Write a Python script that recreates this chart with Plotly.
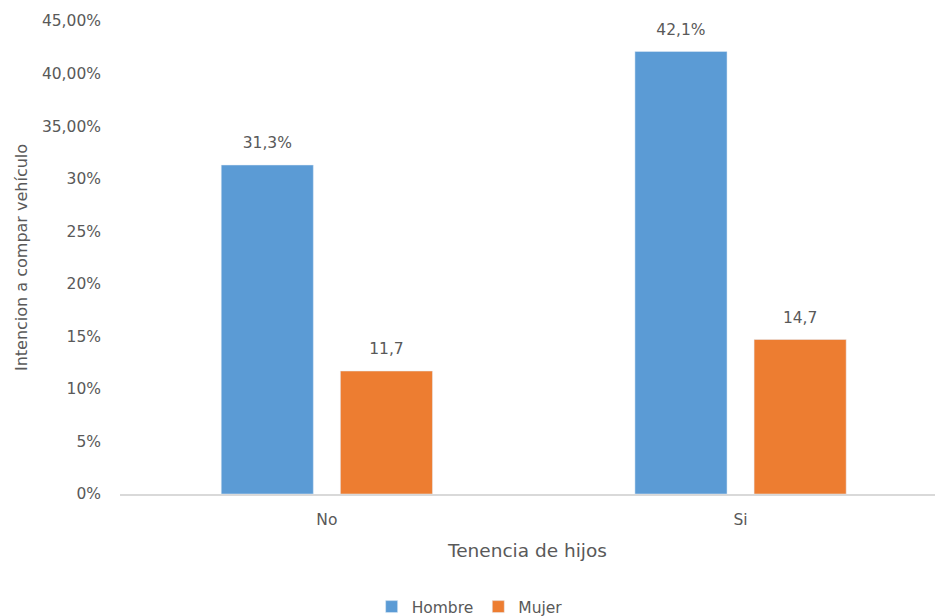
import plotly.graph_objects as go

categories = ["No", "Si"]
hombre = [31.3, 42.1]
mujer = [11.7, 14.7]
hombre_labels = ["31,3%", "42,1%"]
mujer_labels = ["11,7", "14,7"]
y_tickvals = [0, 5, 10, 15, 20, 25, 30, 35, 40, 45]
y_ticktext = ["0%", "5%", "10%", "15%", "20%", "25%", "30%", "35,00%", "40,00%", "45,00%"]

FONT = "DejaVu Sans"
TXT = "#595959"


def lab(t):
    return "<span style='font-size:15.5px'>" + t + "</span><br> "


fig = go.Figure()
fig.add_trace(go.Bar(x=categories, y=hombre, name="Hombre", marker_color="#5B9BD5",
                     text=[lab(t) for t in hombre_labels], textposition="outside", cliponaxis=False,
                     textfont=dict(family=FONT, size=9, color=TXT)))
fig.add_trace(go.Bar(x=categories, y=mujer, name="Mujer", marker_color="#ED7D31",
                     text=[lab(t) for t in mujer_labels], textposition="outside", cliponaxis=False,
                     textfont=dict(family=FONT, size=9, color=TXT)))

fig.update_layout(
    width=935, height=616,
    margin=dict(l=120, r=0, t=21, b=122, autoexpand=False),
    paper_bgcolor="white", plot_bgcolor="white",
    barmode="group", bargap=0.424, bargroupgap=0.227,
    font=dict(family=FONT, size=15.5, color=TXT),
    showlegend=True,
    uniformtext=dict(mode=False),
    legend=dict(orientation="h", x=0.429, xanchor="center", y=-0.239, yanchor="middle",
                font=dict(family=FONT, size=15.5, color=TXT), itemwidth=30,
                traceorder="normal"),
    xaxis=dict(range=[-0.5, 1.47], showline=True, linecolor="#D9D9D9", linewidth=1.5,
               ticks="", showgrid=False, zeroline=False, ticklabelstandoff=11,
               title=dict(text="Tenencia de hijos", standoff=16,
                          font=dict(family=FONT, size=18.5, color=TXT)),
               tickfont=dict(family=FONT, size=15.5, color=TXT)),
    yaxis=dict(range=[0, 45], tickvals=y_tickvals, ticktext=y_ticktext,
               showgrid=False, zeroline=False, showline=False, ticks="",
               ticklabelstandoff=18,
               title=dict(text="Intencion a compar vehículo", standoff=10,
                          font=dict(family=FONT, size=16, color=TXT)),
               tickfont=dict(family=FONT, size=15.5, color=TXT)),
)

fig.write_html("out.html")
